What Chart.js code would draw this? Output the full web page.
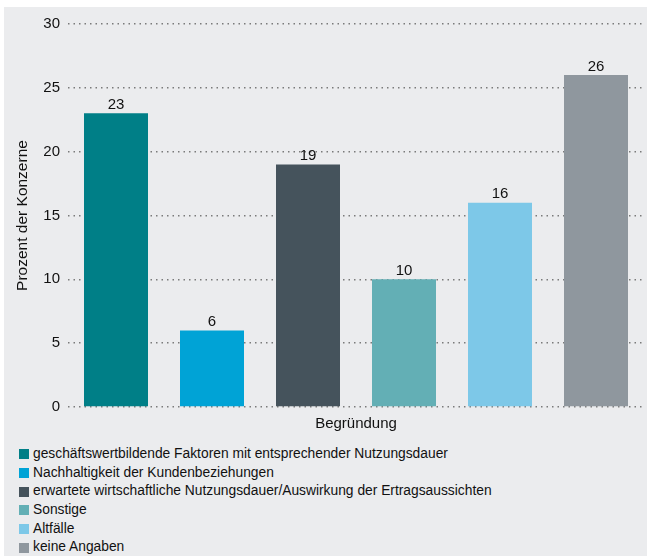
<!DOCTYPE html>
<html>
<head>
<meta charset="utf-8">
<script src="https://cdn.jsdelivr.net/npm/chart.js@4/dist/chart.umd.min.js"></script>
<style>
  html, body { margin: 0; padding: 0; background: #ffffff; }
  #wrap { position: absolute; left: 4px; top: 7px; width: 643px; height: 549px; background: #ebecee; }
  #box { position: absolute; left: 0; top: 0; width: 643px; height: 430px; }
  #legend { position: absolute; left: 15px; top: 438px; font-family: "Liberation Sans", Arial, sans-serif; font-size: 13.8px; color: #111; }
  .li { height: 18.7px; line-height: 18.7px; white-space: nowrap; display: flex; align-items: center; }
  .sw { width: 10px; height: 10px; margin-right: 4px; flex: none; }
</style>
</head>
<body>
<div id="wrap">
  <div id="box"><canvas id="c"></canvas></div>
  <div id="legend"></div>
</div>
<script>
const categories = [
  "geschäftswertbildende Faktoren mit entsprechender Nutzungsdauer",
  "Nachhaltigkeit der Kundenbeziehungen",
  "erwartete wirtschaftliche Nutzungsdauer/Auswirkung der Ertragsaussichten",
  "Sonstige",
  "Altfälle",
  "keine Angaben"
];
const values = [23, 6, 19, 10, 16, 26];
const colors = ["#007f87", "#00a3d6", "#45535c", "#63afb5", "#7dc8e8", "#8f979e"];
const yTicks = [0, 5, 10, 15, 20, 25, 30];
const yTitle = "Prozent der Konzerne";
const xTitle = "Begründung";

const FONT = "'Liberation Sans', Arial, sans-serif";

const valueLabels = {
  id: 'valueLabels',
  afterDatasetsDraw(chart) {
    const ctx = chart.ctx;
    const meta = chart.getDatasetMeta(0);
    ctx.save();
    ctx.font = "15px " + FONT;
    ctx.fillStyle = "#111";
    ctx.textAlign = "center";
    ctx.textBaseline = "bottom";
    meta.data.forEach((bar, i) => {
      ctx.fillText(String(values[i]), bar.x, bar.y - 1);
    });
    ctx.restore();
  }
};

new Chart(document.getElementById('c'), {
  type: 'bar',
  data: {
    labels: categories,
    datasets: [{
      data: values,
      backgroundColor: colors,
      borderWidth: 0,
      barPercentage: 2/3,
      categoryPercentage: 1
    }]
  },
  options: {
    responsive: true,
    maintainAspectRatio: false,
    animation: false,
    layout: { padding: { top: 15, right: 3, left: 0, bottom: 0 } },
    plugins: { legend: { display: false }, tooltip: { enabled: false } },
    scales: {
      x: {
        grid: { display: false },
        border: { display: false },
        ticks: { display: false },
        title: { display: true, text: xTitle, color: "#111", font: { family: FONT, size: 15 }, padding: { top: 0, bottom: 4 } },
        afterFit(s) { s.height = 30; }
      },
      y: {
        min: 0, max: 30,
        afterBuildTicks(s) { s.ticks = yTicks.map(v => ({ value: v })); },
        ticks: { color: "#111", font: { family: FONT, size: 15 }, padding: 8 },
        grid: { drawTicks: false, color: "#7a7a7a", lineWidth: 1.5 },
        border: { display: false, dash: [1.5, 4] },
        title: { display: true, text: yTitle, color: "#111", font: { family: FONT, size: 15.5 }, padding: { top: 9.5, bottom: 0 } },
        afterFit(s) { s.width = 64; }
      }
    }
  },
  plugins: [valueLabels]
});

const lg = document.getElementById('legend');
categories.forEach((c, i) => {
  const row = document.createElement('div');
  row.className = 'li';
  const sw = document.createElement('span');
  sw.className = 'sw';
  sw.style.background = colors[i];
  const t = document.createElement('span');
  t.textContent = c;
  row.appendChild(sw);
  row.appendChild(t);
  lg.appendChild(row);
});
</script>
</body>
</html>
